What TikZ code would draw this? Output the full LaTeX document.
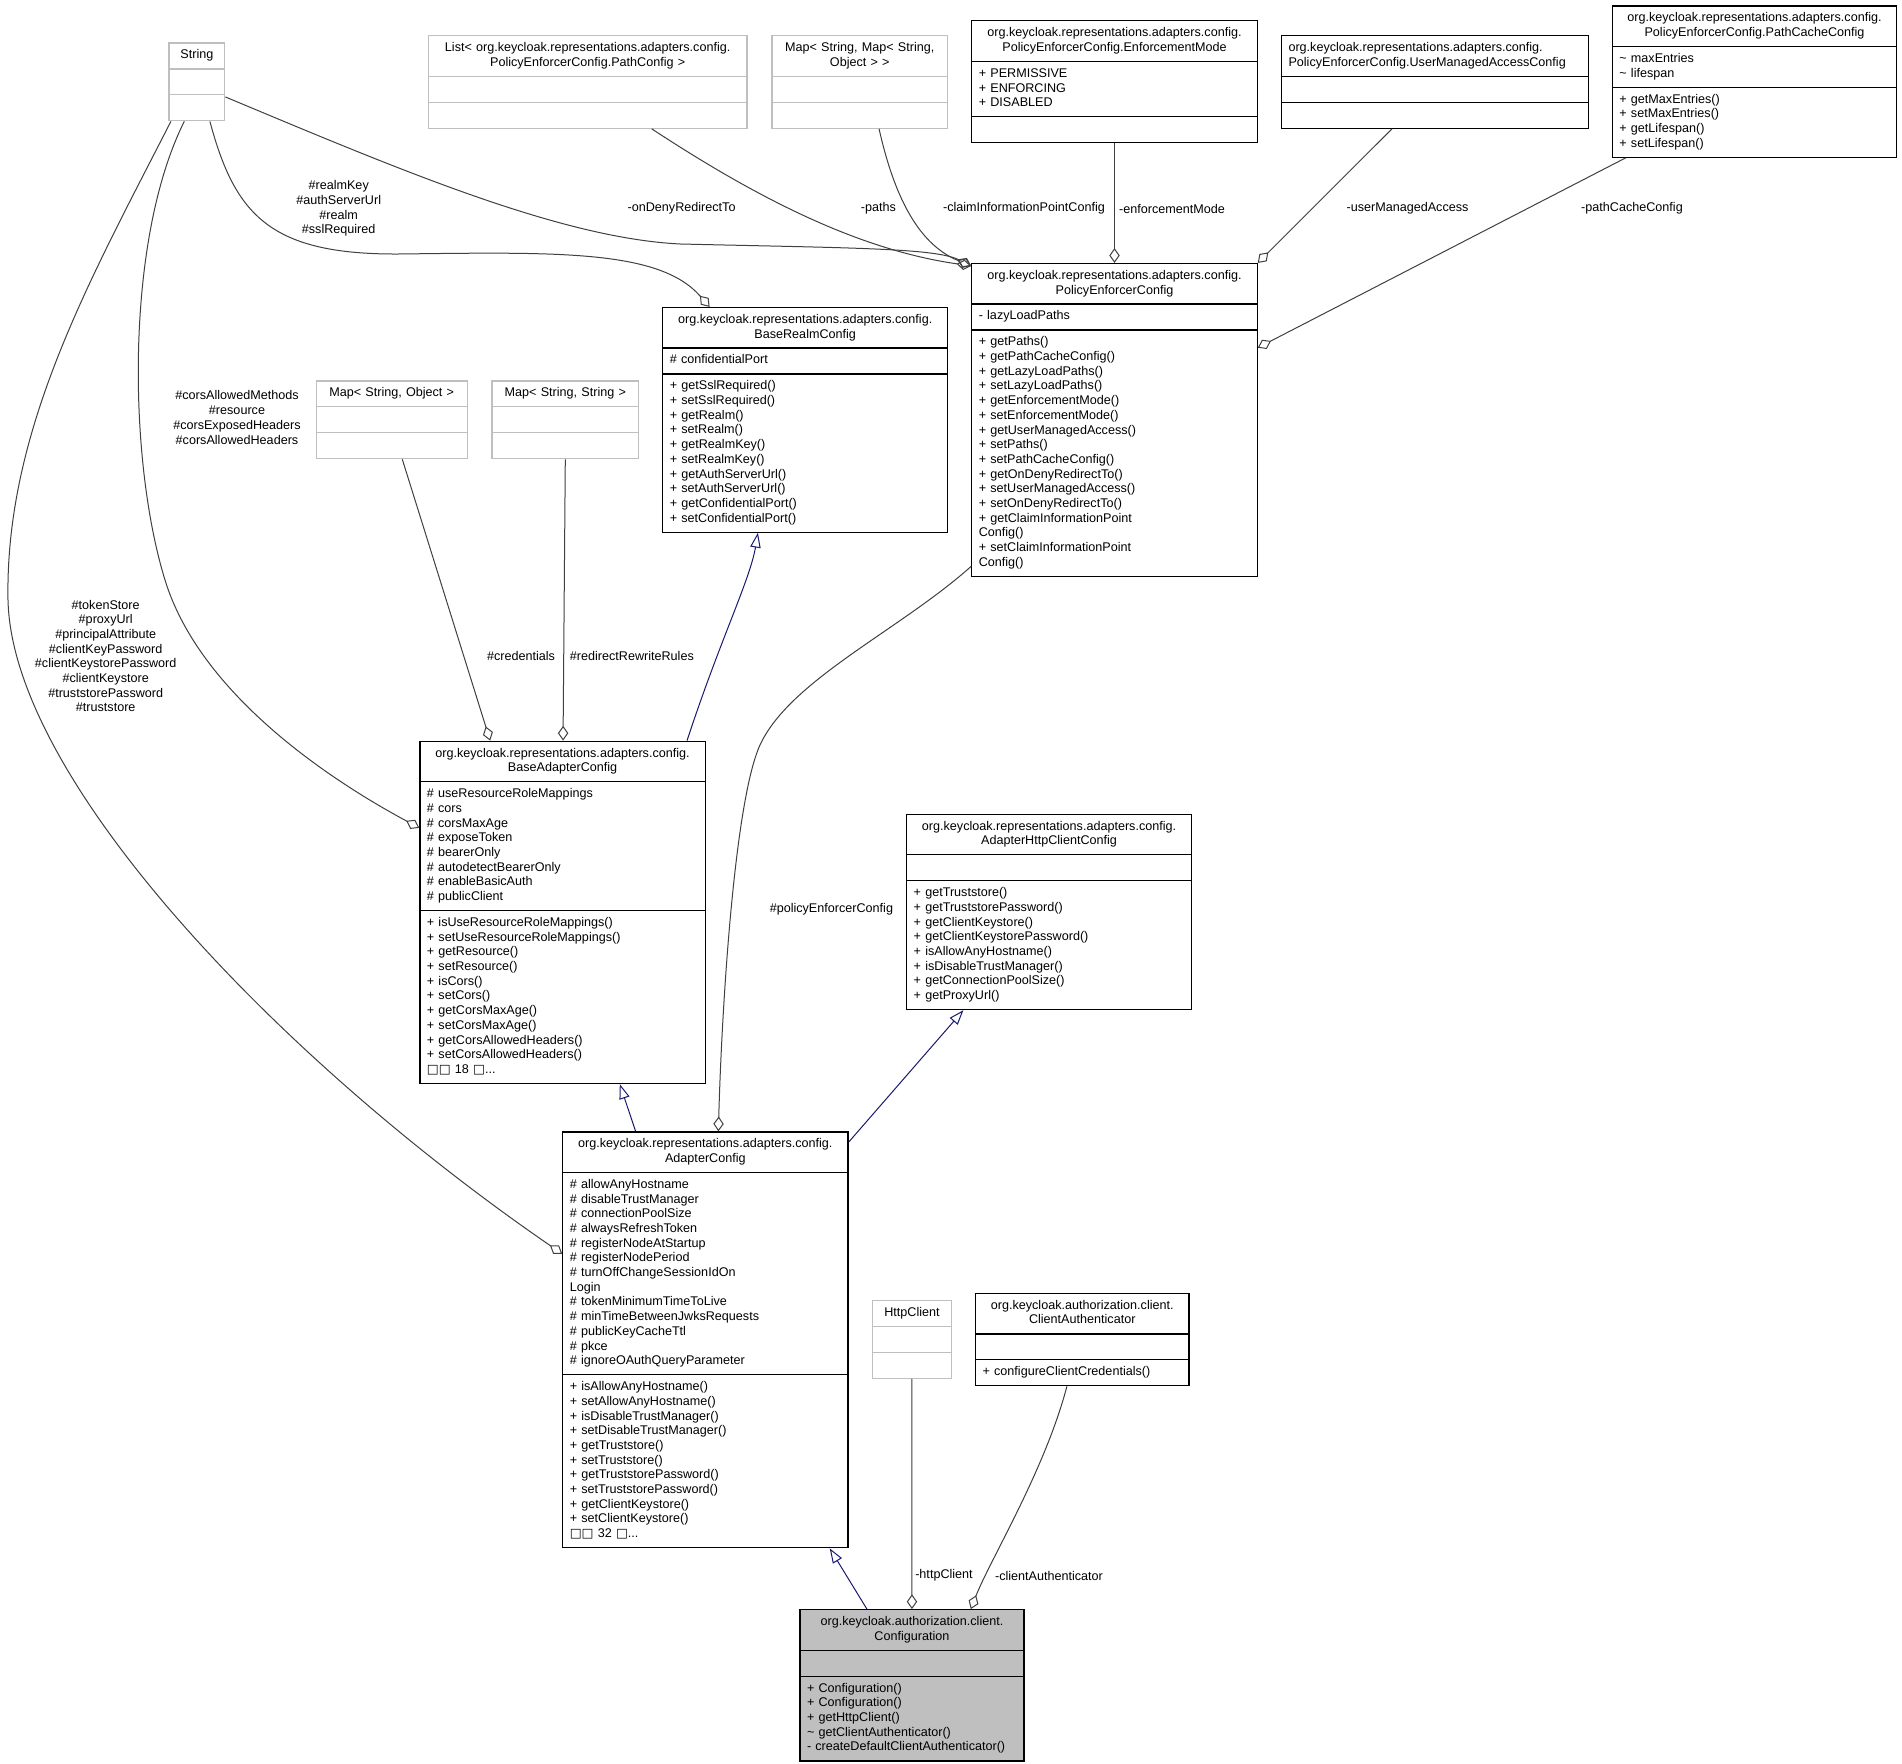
\documentclass[tikz,border=0pt]{standalone}
\usepackage{fontspec}
\usetikzlibrary{shapes.multipart,arrows.meta}
\newfontfamily\umlfam{Liberation Sans}
\newfontfamily\boxfam{DejaVu Sans}
\newcommand{\umlfont}{\umlfam\fontsize{6.3}{7.35}\selectfont\parindent=0pt\hyphenpenalty=10000\exhyphenpenalty=10000}
\newcommand{\tofu}{{\boxfam □}}
\newcommand{\ctr}[1]{\makebox[\hsize]{#1}}
\definecolor{boxgray}{HTML}{BFBFBF}
\definecolor{edgegray}{HTML}{404040}
\definecolor{inhblue}{HTML}{191970}
\tikzset{
  cls/.style={rectangle split, rectangle split parts=3, draw=black, line width=0.6pt,
    anchor=north west, inner xsep=3.5pt, inner ysep=2.5pt, text width=#1, align=left, font=\umlfont},
  gcls/.style={cls=#1, draw=boxgray},
  assoc/.style={draw=edgegray, line width=0.5pt, -{Diamond[open,length=7.4pt,width=5.2pt]}},
  inherit/.style={draw=inhblue, line width=0.5pt, -{Triangle[open,length=7.4pt,width=5.2pt]}},
  lbl/.style={font=\umlfont, inner sep=0pt, align=center}
}

\begin{document}
\begin{tikzpicture}[x=0.5pt,y=-0.5pt]
\fill[white] (0,0) rectangle (1902,1764);

% class boxes
\node[gcls=20.9pt] (str) at (168.4,42.5) {\strut\ctr{String}\strut
  \nodepart{two}\strut \nodepart{three}\strut};
\node[gcls=152.35pt] (pathlist) at (427.7,35.2) {\strut\ctr{List< org.keycloak.representations.adapters.config.}\\\ctr{PolicyEnforcerConfig.PathConfig >}\strut
  \nodepart{two}\strut \nodepart{three}\strut};
\node[gcls=80.85pt] (claimmap) at (771.3,35.2) {\strut\ctr{Map< String, Map< String,}\\\ctr{Object > >}\strut
  \nodepart{two}\strut \nodepart{three}\strut};
\node[cls=135.7pt] (enfmode) at (971.2,20.3) {\strut\ctr{org.keycloak.representations.adapters.config.}\\\ctr{PolicyEnforcerConfig.EnforcementMode}\strut
  \nodepart{two}\strut + PERMISSIVE\\+ ENFORCING\\+ DISABLED\strut
  \nodepart{three}\strut};
\node[cls=146.3pt] (umaconf) at (1280.9,35.2) {\strut org.keycloak.representations.adapters.config.\\PolicyEnforcerConfig.UserManagedAccessConfig\strut
  \nodepart{two}\strut \nodepart{three}\strut};
\node[cls=135.1pt] (pcconf) at (1611.8,5.4) {\strut\ctr{org.keycloak.representations.adapters.config.}\\\ctr{PolicyEnforcerConfig.PathCacheConfig}\strut
  \nodepart{two}\strut \textasciitilde{} maxEntries\\\textasciitilde{} lifespan\strut
  \nodepart{three}\strut + getMaxEntries()\\+ setMaxEntries()\\+ getLifespan()\\+ setLifespan()\strut};
\node[cls=135.7pt] (pec) at (971.2,262.9) {\strut\ctr{org.keycloak.representations.adapters.config.}\\\ctr{PolicyEnforcerConfig}\strut
  \nodepart{two}\strut - lazyLoadPaths\strut
  \nodepart{three}\strut + getPaths()\\+ getPathCacheConfig()\\+ getLazyLoadPaths()\\+ setLazyLoadPaths()\\+ getEnforcementMode()\\+ setEnforcementMode()\\+ getUserManagedAccess()\\+ setPaths()\\+ setPathCacheConfig()\\+ getOnDenyRedirectTo()\\+ setUserManagedAccess()\\+ setOnDenyRedirectTo()\\+ getClaimInformationPoint\\Config()\\+ setClaimInformationPoint\\Config()\strut};
\node[cls=135.4pt] (realmconf) at (662.2,306.9) {\strut\ctr{org.keycloak.representations.adapters.config.}\\\ctr{BaseRealmConfig}\strut
  \nodepart{two}\strut \# confidentialPort\strut
  \nodepart{three}\strut + getSslRequired()\\+ setSslRequired()\\+ getRealm()\\+ setRealm()\\+ getRealmKey()\\+ setRealmKey()\\+ getAuthServerUrl()\\+ setAuthServerUrl()\\+ getConfidentialPort()\\+ setConfidentialPort()\strut};
\node[gcls=68.4pt] (credmap) at (315.7,380.4) {\strut\ctr{Map< String, Object >}\strut
  \nodepart{two}\strut \nodepart{three}\strut};
\node[gcls=66.3pt] (rulemap) at (491.4,380.4) {\strut\ctr{Map< String, String >}\strut
  \nodepart{two}\strut \nodepart{three}\strut};
\node[cls=135.65pt] (baseconf) at (419.3,740.6) {\strut\ctr{org.keycloak.representations.adapters.config.}\\\ctr{BaseAdapterConfig}\strut
  \nodepart{two}\strut \# useResourceRoleMappings\\\# cors\\\# corsMaxAge\\\# exposeToken\\\# bearerOnly\\\# autodetectBearerOnly\\\# enableBasicAuth\\\# publicClient\strut
  \nodepart{three}\strut + isUseResourceRoleMappings()\\+ setUseResourceRoleMappings()\\+ getResource()\\+ setResource()\\+ isCors()\\+ setCors()\\+ getCorsMaxAge()\\+ setCorsMaxAge()\\+ getCorsAllowedHeaders()\\+ setCorsAllowedHeaders()\\\tofu\tofu{} 18 \tofu...\strut};
\node[cls=135.35pt] (httpconf) at (906.1,813.7) {\strut\ctr{org.keycloak.representations.adapters.config.}\\\ctr{AdapterHttpClientConfig}\strut
  \nodepart{two}\strut
  \nodepart{three}\strut + getTruststore()\\+ getTruststorePassword()\\+ getClientKeystore()\\+ getClientKeystorePassword()\\+ isAllowAnyHostname()\\+ isDisableTrustManager()\\+ getConnectionPoolSize()\\+ getProxyUrl()\strut};
\node[cls=135.55pt] (adconf) at (562.2,1131.3) {\strut\ctr{org.keycloak.representations.adapters.config.}\\\ctr{AdapterConfig}\strut
  \nodepart{two}\strut \# allowAnyHostname\\\# disableTrustManager\\\# connectionPoolSize\\\# alwaysRefreshToken\\\# registerNodeAtStartup\\\# registerNodePeriod\\\# turnOffChangeSessionIdOn\\Login\\\# tokenMinimumTimeToLive\\\# minTimeBetweenJwksRequests\\\# publicKeyCacheTtl\\\# pkce\\\# ignoreOAuthQueryParameter\strut
  \nodepart{three}\strut + isAllowAnyHostname()\\+ setAllowAnyHostname()\\+ isDisableTrustManager()\\+ setDisableTrustManager()\\+ getTruststore()\\+ setTruststore()\\+ getTruststorePassword()\\+ setTruststorePassword()\\+ getClientKeystore()\\+ setClientKeystore()\\\tofu\tofu{} 32 \tofu...\strut};
\node[gcls=32.25pt] (httpcl) at (872.1,1299.9) {\strut\ctr{HttpClient}\strut
  \nodepart{two}\strut \nodepart{three}\strut};
\node[cls=99.65pt] (clauth) at (975,1292.7) {\strut\ctr{org.keycloak.authorization.client.}\\\ctr{ClientAuthenticator}\strut
  \nodepart{two}\strut
  \nodepart{three}\strut + configureClientCredentials()\strut};
\node[cls=104.95pt, fill=boxgray] (conf) at (799.4,1609.1) {\strut\ctr{org.keycloak.authorization.client.}\\\ctr{Configuration}\strut
  \nodepart{two}\strut
  \nodepart{three}\strut + Configuration()\\+ Configuration()\\+ getHttpClient()\\\textasciitilde{} getClientAuthenticator()\\- createDefaultClientAuthenticator()\strut};

% associations
\draw[assoc] ([shift={(0,15)}]str.east) .. controls (400,170) and (560,238) .. (680,244)
  .. controls (850,248) and (935,248) .. ([shift={(0,3)}]pec.north west);
\draw[assoc] ([shift={(13,0)}]str.south) .. controls (235,215) and (270,255) .. (400,254)
  .. controls (560,252) and (660,250) .. ([shift={(-95.6,0)}]realmconf.north);
\draw[assoc] ([shift={(-12.6,0)}]str.south) .. controls (125,240) and (128,460) .. (165,580)
  .. controls (200,694) and (330,780) .. ([shift={(0,-84.5)}]baseconf.west);
\draw[assoc] ([shift={(-26,0)}]str.south) .. controls (90,280) and (5,430) .. (8,600)
  .. controls (12,780) and (280,1060) .. ([shift={(0,-86)}]adconf.west);
\draw[assoc] ([shift={(64,0)}]pathlist.south) .. controls (760,200) and (860,250) .. ([shift={(0,3)}]pec.north west);
\draw[assoc] ([shift={(19.3,0)}]claimmap.south) .. controls (895,200) and (920,245) .. ([shift={(0,3)}]pec.north west);
\draw[assoc] (enfmode.south) -- (pec.north);
\draw[assoc] ([shift={(-42.8,0)}]umaconf.south) -- (pec.north east);
\draw[assoc] ([shift={(14,0)}]pcconf.south west) -- ([shift={(0,-72.2)}]pec.east);
\draw[assoc] ([shift={(0,-10.7)}]pec.south west) .. controls (900,630) and (790,680) .. (760,745)
  .. controls (735,800) and (722,1000) .. ([shift={(13,0)}]adconf.north);
\draw[assoc] ([shift={(10.6,0)}]credmap.south) -- ([shift={(-72.4,0)}]baseconf.north);
\draw[assoc] (rulemap.south) -- ([shift={(0.5,0)}]baseconf.north);
\draw[assoc] (httpcl.south) -- (conf.north);
\draw[assoc] ([shift={(-15.35,0)}]clauth.south) .. controls (1045,1470) and (990,1560) .. ([shift={(58.85,0)}]conf.north);

% generalisations
\draw[inherit] ([shift={(124.5,0)}]baseconf.north) .. controls (720,640) and (750,580) .. ([shift={(-47.3,0)}]realmconf.south);
\draw[inherit] ([shift={(-69.75,0)}]adconf.north) -- ([shift={(57.25,0)}]baseconf.south);
\draw[inherit] ([shift={(0,11)}]adconf.north east) -- ([shift={(-85.65,0)}]httpconf.south);
\draw[inherit] ([shift={(-45,0)}]conf.north) -- ([shift={(124.35,0)}]adconf.south);

% edge labels
\node[lbl] (l-ondeny) at (681.6,208.6) {-onDenyRedirectTo};
\node[lbl] (l-realm) at (338.7,208.6) {\#realmKey\\\#authServerUrl\\\#realm\\\#sslRequired};
\node[lbl] (l-cors) at (237,417.5) {\#corsAllowedMethods\\\#resource\\\#corsExposedHeaders\\\#corsAllowedHeaders};
\node[lbl] (l-store) at (105.7,656) {\#tokenStore\\\#proxyUrl\\\#principalAttribute\\\#clientKeyPassword\\\#clientKeystorePassword\\\#clientKeystore\\\#truststorePassword\\\#truststore};
\node[lbl] (l-paths) at (878.5,208.6) {-paths};
\node[lbl] (l-claim) at (1024,208.6) {-claimInformationPointConfig};
\node[lbl, anchor=west] (l-enf) at (1118.8,208.6) {-enforcementMode};
\node[lbl] (l-uma) at (1407.5,208.6) {-userManagedAccess};
\node[lbl] (l-pcc) at (1632,208.6) {-pathCacheConfig};
\node[lbl] (l-pec) at (831.4,909.7) {\#policyEnforcerConfig};
\node[lbl] (l-cred) at (521,656.4) {\#credentials};
\node[lbl, anchor=west] (l-rules) at (569.5,656.4) {\#redirectRewriteRules};
\node[lbl] (l-http) at (944,1575.6) {-httpClient};
\node[lbl] (l-auth) at (1049,1575.6) {-clientAuthenticator};
\end{tikzpicture}
\end{document}
